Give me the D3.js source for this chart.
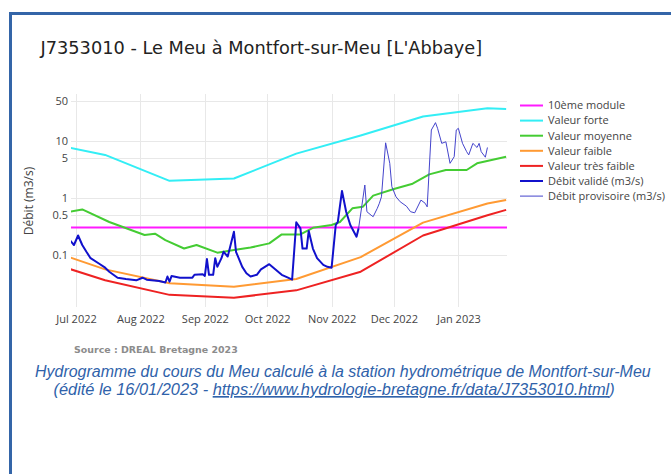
<!DOCTYPE html>
<html>
<head>
<meta charset="utf-8">
<script src="https://cdn.jsdelivr.net/npm/d3@7"></script>
<style>
  html, body { margin: 0; padding: 0; background: #fff; }
  svg { display: block; }
</style>
</head>
<body>
<svg id="chart" width="671" height="474"></svg>
<script>
// data
var monthTicks = ["2022-07-01", "2022-08-01", "2022-09-01", "2022-10-01", "2022-11-01", "2022-12-01", "2023-01-01"];
var yTicks = [0.1, 0.5, 1, 5, 10, 50];

var seriesNames = ["10ème module", "Valeur forte", "Valeur moyenne", "Valeur faible", "Valeur très faible", "Débit validé (m3/s)", "Débit provisoire (m3/s)"];

var moduleDixieme = 0.305;

var valeurForte = [
  ["2022-06-28", 7.6], ["2022-07-15", 5.7], ["2022-08-15", 2.0], ["2022-09-15", 2.2],
  ["2022-10-15", 6.0], ["2022-11-15", 12.5], ["2022-12-15", 27], ["2023-01-15", 37.5], ["2023-01-24", 36.4]
];

var valeurMoyenne = [
  ["2022-06-28", 0.575], ["2022-07-04", 0.63], ["2022-07-17", 0.38], ["2022-08-03", 0.224],
  ["2022-08-08", 0.237], ["2022-08-13", 0.183], ["2022-08-22", 0.13], ["2022-08-28", 0.15],
  ["2022-09-07", 0.11], ["2022-09-15", 0.122], ["2022-09-23", 0.135], ["2022-10-02", 0.16],
  ["2022-10-08", 0.23], ["2022-10-17", 0.23], ["2022-10-23", 0.30], ["2022-11-01", 0.336],
  ["2022-11-05", 0.38], ["2022-11-11", 0.66], ["2022-11-16", 0.70], ["2022-11-21", 1.1],
  ["2022-12-01", 1.44], ["2022-12-10", 1.78], ["2022-12-18", 2.6], ["2022-12-26", 3.1],
  ["2023-01-05", 3.1], ["2023-01-10", 4.06], ["2023-01-24", 5.3]
];

var valeurFaible = [
  ["2022-06-28", 0.091], ["2022-07-15", 0.056], ["2022-08-15", 0.032], ["2022-09-15", 0.0278],
  ["2022-10-15", 0.038], ["2022-11-15", 0.092], ["2022-12-15", 0.37], ["2023-01-15", 0.8], ["2023-01-24", 0.92]
];

var valeurTresFaible = [
  ["2022-06-28", 0.057], ["2022-07-15", 0.036], ["2022-08-15", 0.02], ["2022-09-15", 0.0178],
  ["2022-10-15", 0.024], ["2022-11-15", 0.051], ["2022-12-15", 0.22], ["2023-01-15", 0.5], ["2023-01-24", 0.62]
];

var debitValide = [
  ["2022-06-28", 0.183], ["2022-06-30", 0.15], ["2022-07-02", 0.22], ["2022-07-04", 0.15],
  ["2022-07-06", 0.114], ["2022-07-08", 0.088], ["2022-07-12", 0.071], ["2022-07-15", 0.06],
  ["2022-07-17", 0.051], ["2022-07-21", 0.04], ["2022-07-25", 0.038], ["2022-07-30", 0.036],
  ["2022-08-02", 0.04], ["2022-08-04", 0.037], ["2022-08-10", 0.035], ["2022-08-13", 0.033],
  ["2022-08-14", 0.042], ["2022-08-15", 0.034], ["2022-08-16", 0.043], ["2022-08-20", 0.04],
  ["2022-08-26", 0.04], ["2022-08-27", 0.045], ["2022-08-31", 0.046], ["2022-09-01", 0.043],
  ["2022-09-02", 0.085], ["2022-09-03", 0.045], ["2022-09-05", 0.045], ["2022-09-06", 0.088],
  ["2022-09-07", 0.062], ["2022-09-09", 0.088], ["2022-09-10", 0.114], ["2022-09-12", 0.094],
  ["2022-09-15", 0.256], ["2022-09-16", 0.114], ["2022-09-19", 0.062], ["2022-09-21", 0.048],
  ["2022-09-23", 0.042], ["2022-09-26", 0.045], ["2022-09-28", 0.056], ["2022-10-02", 0.069],
  ["2022-10-04", 0.06], ["2022-10-08", 0.045], ["2022-10-11", 0.04], ["2022-10-13", 0.037],
  ["2022-10-15", 0.375], ["2022-10-17", 0.294], ["2022-10-18", 0.13], ["2022-10-20", 0.13],
  ["2022-10-21", 0.264], ["2022-10-23", 0.13], ["2022-10-25", 0.088], ["2022-10-28", 0.067],
  ["2022-10-30", 0.062], ["2022-11-01", 0.06], ["2022-11-03", 0.336], ["2022-11-04", 0.38],
  ["2022-11-06", 1.33], ["2022-11-08", 0.575], ["2022-11-10", 0.336], ["2022-11-13", 0.21],
  ["2022-11-14", 0.294]
];

var debitProvisoire = [
  ["2022-11-14", 0.294], ["2022-11-17", 1.69], ["2022-11-18", 0.575], ["2022-11-20", 0.5],
  ["2022-11-21", 0.47], ["2022-11-23", 0.66], ["2022-11-24", 0.81], ["2022-11-25", 1.05],
  ["2022-11-27", 9.3], ["2022-11-29", 4.06], ["2022-11-30", 1.58], ["2022-12-02", 1.05],
  ["2022-12-04", 0.86], ["2022-12-07", 0.72], ["2022-12-09", 0.575], ["2022-12-11", 0.55],
  ["2022-12-14", 0.92], ["2022-12-16", 0.81], ["2022-12-17", 0.70], ["2022-12-19", 15.6],
  ["2022-12-21", 21], ["2022-12-22", 16.7], ["2022-12-24", 9.1], ["2022-12-26", 9.7],
  ["2022-12-28", 4.06], ["2022-12-30", 5.3], ["2022-12-31", 15.6], ["2023-01-01", 16.7],
  ["2023-01-03", 9.1], ["2023-01-05", 6.5], ["2023-01-06", 5.7], ["2023-01-08", 9.1],
  ["2023-01-10", 7.7], ["2023-01-11", 9.1], ["2023-01-12", 6.5], ["2023-01-14", 5.2],
  ["2023-01-15", 7.7]
];

var parse = d3.timeParse("%Y-%m-%d");

var svg = d3.select("#chart");
var W = 671, H = 474;

// plot area
var plotLeft = 71, plotRight = 507, plotTop = 94, plotBottom = 307;

var x = d3.scaleTime()
  .domain([new Date(2022, 5, 28, 14), new Date(2023, 0, 24, 10)])
  .range([plotLeft, plotRight]);

var y = d3.scaleLog()
  .domain([0.01225, 66.8])
  .range([plotBottom, plotTop]);

function fit(sel, width) {
  var fs = parseFloat(sel.attr("font-size"));
  var w = sel.node().getComputedTextLength();
  sel.attr("font-size", (fs * width / w).toFixed(2));
}

svg.append("rect").attr("width", W).attr("height", H).attr("fill", "#fff");

// frame
svg.append("rect")
  .attr("x", 10.5).attr("y", 13.5)
  .attr("width", 720).attr("height", 520)
  .attr("fill", "none")
  .attr("stroke", "#3465a8")
  .attr("stroke-width", 3);

// title
var title = svg.append("text")
  .attr("x", 40.5).attr("y", 54)
  .attr("font-family", "DejaVu Sans")
  .attr("font-size", 18)
  .attr("fill", "#222")
  .text("J7353010 - Le Meu à Montfort-sur-Meu [L'Abbaye]");
fit(title, 442);

// grid
var grid = svg.append("g").attr("stroke", "#e8e8e8").attr("stroke-width", 1);
grid.selectAll(".vg").data(monthTicks).enter().append("line")
  .attr("x1", function(d) { return Math.round(x(parse(d))) + 0.5; })
  .attr("x2", function(d) { return Math.round(x(parse(d))) + 0.5; })
  .attr("y1", plotTop).attr("y2", plotBottom);
grid.selectAll(".hg").data(yTicks).enter().append("line")
  .attr("x1", plotLeft).attr("x2", plotRight)
  .attr("y1", function(d) { return Math.round(y(d)) + 0.5; })
  .attr("y2", function(d) { return Math.round(y(d)) + 0.5; });

// axes
var xAxis = d3.axisBottom(x)
  .tickValues(monthTicks.map(parse))
  .tickFormat(d3.timeFormat("%b %Y"))
  .tickSize(0).tickPadding(8);
var gx = svg.append("g").attr("transform", "translate(0," + plotBottom + ")").call(xAxis);
gx.select(".domain").remove();
gx.selectAll("text").attr("font-family", "Open Sans").attr("font-size", 11).attr("fill", "#444");

var yAxis = d3.axisLeft(y)
  .tickValues(yTicks)
  .tickFormat(d3.format("~g"))
  .tickSize(0).tickPadding(3);
var gy = svg.append("g").attr("transform", "translate(" + plotLeft + ",0)").call(yAxis);
gy.select(".domain").remove();
gy.selectAll("text").attr("font-family", "Open Sans").attr("font-size", 11).attr("fill", "#444");

svg.append("text")
  .attr("transform", "translate(33,201) rotate(-90)")
  .attr("text-anchor", "middle")
  .attr("font-family", "Open Sans")
  .attr("font-size", 12)
  .attr("fill", "#444")
  .text("Débit (m3/s)");

// lines
svg.append("clipPath").attr("id", "clip")
  .append("rect").attr("x", plotLeft).attr("y", plotTop)
  .attr("width", plotRight - plotLeft).attr("height", plotBottom - plotTop);

var line = d3.line()
  .x(function(d) { return x(parse(d[0])); })
  .y(function(d) { return y(d[1]); });

var colors = ["#ff1aff", "#33eef5", "#44cc33", "#ff9a33", "#ee2222", "#1111cc", "#4444cc"];
var widths = [2, 2, 2, 2, 2, 2, 1];

var moduleData = [["2022-06-27", moduleDixieme], ["2023-01-25", moduleDixieme]];
var allSeries = [moduleData, valeurForte, valeurMoyenne, valeurFaible, valeurTresFaible, debitValide, debitProvisoire];

var plot = svg.append("g").attr("clip-path", "url(#clip)");
plot.selectAll("path").data(allSeries).enter().append("path")
  .attr("d", line)
  .attr("fill", "none")
  .attr("stroke", function(d, i) { return colors[i]; })
  .attr("stroke-width", function(d, i) { return widths[i]; })
  .attr("stroke-linejoin", "round");

// legend
var legend = svg.append("g");
var rows = legend.selectAll("g").data(seriesNames).enter().append("g")
  .attr("transform", function(d, i) { return "translate(520," + (105.5 + i * 15.1) + ")"; });
rows.append("line")
  .attr("x1", 0).attr("x2", 23).attr("y1", 0).attr("y2", 0)
  .attr("stroke", function(d, i) { return colors[i]; })
  .attr("stroke-width", function(d, i) { return widths[i]; });
rows.append("text")
  .attr("x", 28).attr("dy", "0.35em")
  .attr("font-family", "Open Sans")
  .attr("font-size", 11)
  .attr("fill", "#444")
  .text(function(d) { return d; });

// source
var source = svg.append("text")
  .attr("x", 74).attr("y", 353)
  .attr("font-family", "DejaVu Sans")
  .attr("font-weight", "bold")
  .attr("font-size", 9)
  .attr("fill", "#8c8c8c")
  .text("Source : DREAL Bretagne 2023");
fit(source, 164);

// caption
var cap1 = svg.append("text")
  .attr("x", 35).attr("y", 377)
  .attr("font-family", "Liberation Sans")
  .attr("font-style", "italic")
  .attr("font-size", 14)
  .attr("fill", "#2f62aa")
  .text("Hydrogramme du cours du Meu calculé à la station hydrométrique de Montfort-sur-Meu");
fit(cap1, 616);

var cap2 = svg.append("text")
  .attr("x", 53.5).attr("y", 395)
  .attr("font-family", "Liberation Sans")
  .attr("font-style", "italic")
  .attr("font-size", 14)
  .attr("fill", "#2f62aa");
cap2.append("tspan").text("(édité le 16/01/2023 - ");
cap2.append("tspan").style("text-decoration", "underline").text("https://www.hydrologie-bretagne.fr/data/J7353010.html");
cap2.append("tspan").text(")");
fit(cap2, 561);
</script>
</body>
</html>
